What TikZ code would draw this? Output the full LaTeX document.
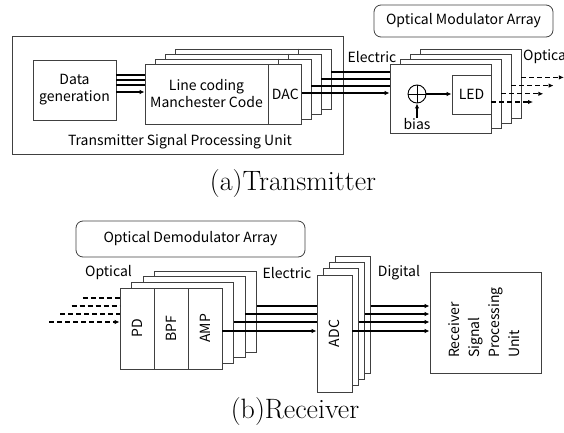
\documentclass[tikz,border=0pt]{standalone}
\usepackage{fontspec}
\newfontfamily\gothic{Noto Sans CJK JP}
\usetikzlibrary{arrows.meta, positioning, calc}
\tikzset{
	blk/.style={rectangle, draw=black!75, fill=white, line width=0.8pt, align=center, inner sep=0pt, font=\gothic\fontsize{14}{17}\selectfont},
	layer/.style={rectangle, draw=black!75, fill=white, line width=0.8pt, inner sep=0pt},
	tag/.style={rectangle, rounded corners=7pt, draw=black!75, line width=0.8pt, inner sep=0pt, font=\gothic\fontsize{14}{17}\selectfont},
	lbl/.style={inner sep=0pt, font=\gothic\fontsize{14}{17}\selectfont},
	caption/.style={inner sep=0pt, font=\fontsize{28}{32}\selectfont},
	sig/.style={line width=1.1pt},
	arrow/.style={-{Latex[length=5pt, width=4.5pt]}, line width=1.1pt},
	optic/.style={-{Latex[length=5pt, width=4.5pt]}, line width=1.1pt, dash pattern=on 5pt off 3pt},
}

\begin{document}
\begin{tikzpicture}[x=1pt, y=-1pt]
	\clip (0,0) rectangle (564,433);
	% (a) transmitter
	\node[blk, minimum width=331pt, minimum height=118pt] (tspu) at (177.5,95) {};
	\node[lbl, anchor=base] (tspulbl) at (180,145) {Transmitter Signal Processing Unit};
	\node[blk, minimum width=83pt, minimum height=60pt] (datagen) at (74.5,90) {Data\\generation};
	\foreach \k in {3,2,1} {
		\node[layer, minimum width=156pt, minimum height=60pt] (lc\k) at (223+10*\k,94-5*\k) {};
		\draw[black!75, line width=0.8pt] (lc\k.north east) ++(-33,0) -- ++(0,60);
	}
	\node[blk, minimum width=123pt, minimum height=60pt] (lc) at (206.5,94) {Line coding\\Manchester Code};
	\node[blk, minimum width=33pt, minimum height=60pt, right=0pt of lc] (dac) {DAC};
	\foreach \y in {75,80,85}
		\draw[sig] (datagen.east |- 0,\y) -- (lc.west |- 0,\y);
	\draw[arrow] (datagen.east |- 0,92) -- (lc.west |- 0,92);
	% modulator array
	\node[tag, minimum width=179pt, minimum height=32pt] (modtag) at (463.5,21) {Optical Modulator Array};
	\foreach \k in {3,2,1}
		\node[layer, minimum width=101pt, minimum height=69pt] (mod\k) at (440.5+10*\k,98.5-5*\k) {};
	\node[layer, minimum width=101pt, minimum height=69pt] (mod) at (440.5,98.5) {};
	\node[blk, minimum width=39pt, minimum height=39pt] (led) at (471.5,94.5) {LED};
	\node[circle, draw=black, line width=0.9pt, minimum size=18pt, inner sep=0pt] (sum) at (417,94) {};
	\draw[line width=0.9pt] (sum.north) -- (sum.south) (sum.west) -- (sum.east);
	\node[lbl] (bias) at (417,124) {bias};
	\draw[arrow] (bias.north) -- (sum.south);
	\draw[arrow] (sum.east) -- (led.west |- sum.east);
	\foreach \k/\y in {1/86,2/79,3/72}
		\draw[sig] (lc\k.east |- 0,\y) -- (mod.west |- 0,\y);
	\draw[arrow] (dac.east |- 0,93) -- (mod.west |- 0,93);
	\foreach \k in {0,1,2,3}
		\coordinate (out\k) at (533+10.3*\k,102-8.2*\k);
	\draw[optic] (mod.east |- out0) -- (out0);
	\foreach \k in {1,2,3}
		\draw[optic] (mod\k.east |- out\k) -- (out\k);
	\node[lbl] (elec1) at (372,57) {Electric};
	\node[lbl, anchor=west] (opt1) at (523,57) {Optical};
	\node[caption] (capa) at (293,184) {(a)Transmitter};
	% (b) receiver
	\node[tag, minimum width=229pt, minimum height=36pt] (demodtag) at (190.5,239) {Optical Demodulator Array};
	\foreach \k in {3,2,1}
		\node[layer, minimum width=102pt, minimum height=81pt] (pd\k) at (171+11.5*\k,328.5-5.7*\k) {};
	\node[blk, minimum width=34pt, minimum height=81pt] (pd) at (137,328.5) {\rotatebox{90}{PD}};
	\node[blk, minimum width=34pt, minimum height=81pt] (bpf) at (171,328.5) {\rotatebox{90}{BPF}};
	\node[blk, minimum width=34pt, minimum height=81pt] (amp) at (205,328.5) {\rotatebox{90}{AMP}};
	\foreach \k in {0,1,2,3}
		\coordinate (in\k) at (49+11.3*\k,322-8*\k);
	\draw[optic] (in0) -- (pd.west |- in0);
	\foreach \k in {1,2,3}
		\draw[sig, dash pattern=on 5pt off 3pt] (in\k) -- (pd.west |- in\k);
	\foreach \k in {3,2,1}
		\node[layer, minimum width=35pt, minimum height=117pt] (adc\k) at (334.5+6.1*\k,333.5-6.3*\k) {};
	\node[blk, minimum width=35pt, minimum height=117pt] (adc) at (334.5,333.5) {\rotatebox{90}{ADC}};
	\node[blk, minimum width=111pt, minimum height=101pt] (rspu) at (485.5,322.5) {\rotatebox{90}{\def\arraystretch{1.18}\begin{tabular}{@{}l@{}}Receiver\\Signal\\Processing\\Unit\end{tabular}}};
	\draw[arrow] (amp.east |- 0,331) -- (adc.west |- 0,331);
	\foreach \k/\y in {1/322,2/314,3/306}
		\draw[sig] (pd\k.east |- 0,\y) -- (adc.west |- 0,\y);
	\draw[arrow] (adc.east |- 0,331) -- (rspu.west |- 0,331);
	\foreach \k/\y in {1/322,2/314,3/306}
		\draw[arrow] (adc\k.east |- 0,\y) -- (rspu.west |- 0,\y);
	\node[lbl] (opt2) at (108.5,273) {Optical};
	\node[lbl] (elec2) at (287,273) {Electric};
	\node[lbl] (dig) at (399,273) {Digital};
	\node[caption] (capb) at (295,412) {(b)Receiver};
\end{tikzpicture}
\end{document}
